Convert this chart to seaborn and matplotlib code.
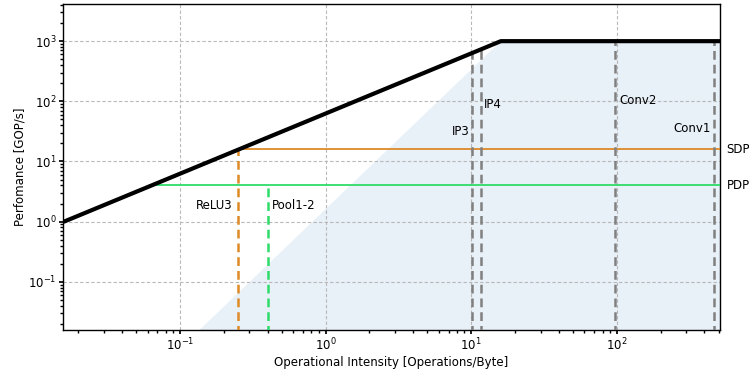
import numpy as np
import pandas as pd
import matplotlib
matplotlib.use("Agg")
import matplotlib.pyplot as plt
import seaborn as sns

# ---- data ----
peak_perf = 1000.0          # GOP/s
bandwidth = 62.5            # GB/s
roof_x = [1 / 62.5, 16.0, 512.0]
roof_y = [1.0, 1000.0, 1000.0]

shade_x = [0.112, 16.0, 512.0, 512.0]
shade_y = [0.01, 1000.0, 1000.0, 0.01]

level_names = ["SDP", "PDP"]
level_values = [16.0, 4.0]

layer_names = ["ReLU3", "Pool1-2", "IP3", "IP4", "Conv2", "Conv1"]
layer_intensity = [0.25, 0.40, 10.1, 11.6, 98.0, 468.0]
layer_perf = [15.6, 4.0, 631.0, 725.0, 1000.0, 1000.0]

xlim = (1 / 63.5, 512.0)
ylim = (0.0158, 4100.0)

ORANGE = "#dd8a27"
GREEN = "#2edc6a"
SHADE = "#e8f0f8"
FS = 8.5

sns.set_theme(style="ticks", rc={"axes.edgecolor": "black", "text.color": "black",
                                  "axes.labelcolor": "black", "xtick.color": "black",
                                  "ytick.color": "black"})
plt.rcParams["font.family"] = ["DejaVu Sans"]

fig, ax = plt.subplots(figsize=(7.49, 3.73), dpi=100)
fig.subplots_adjust(left=0.0841, right=0.9613, top=0.9885, bottom=0.1153)

ax.set_xscale("log")
ax.set_yscale("log")

ax.fill(shade_x, shade_y, color=SHADE, zorder=0, lw=0)

roof = pd.DataFrame({"x": roof_x, "y": roof_y})
sns.lineplot(data=roof, x="x", y="y", ax=ax, color="black", lw=3, zorder=5,
             estimator=None, sort=False)

# horizontal levels
level_colors = [ORANGE, GREEN]
for name, val, col in zip(level_names, level_values, level_colors):
    x0 = val / bandwidth
    lv = pd.DataFrame({"x": [x0, xlim[1]], "y": [val, val]})
    sns.lineplot(data=lv, x="x", y="y", ax=ax, color=col, lw=1.3, zorder=3,
                 estimator=None)
    ax.text(1.01, val, name, transform=ax.get_yaxis_transform(),
            va="center", ha="left", fontsize=FS)

# vertical layer lines
layer_colors = [ORANGE, GREEN, "gray", "gray", "gray", "gray"]
for name, xi, yi, col in zip(layer_names, layer_intensity, layer_perf, layer_colors):
    vl = pd.DataFrame({"x": [xi, xi], "y": [ylim[0] * 0.5, yi]})
    sns.lineplot(data=vl, x="x", y="y", ax=ax, color=col, lw=1.8, zorder=4,
                 estimator=None, sort=False, linestyle=(0, (3.5, 2)))

label_pos = {
    "ReLU3": (0.228, 1.85, "right"),
    "Pool1-2": (0.425, 1.85, "left"),
    "IP3": (9.7, 32.0, "right"),
    "IP4": (12.3, 88.0, "left"),
    "Conv2": (104.0, 103.0, "left"),
    "Conv1": (445.0, 35.0, "right"),
}
for name in layer_names:
    lx, ly, ha = label_pos[name]
    ax.text(lx, ly, name, ha=ha, va="center", fontsize=FS)

ax.set_xlim(*xlim)
ax.set_ylim(*ylim)
ax.grid(True, which="major", linestyle=(0, (3, 2)), color="#b8b8b8", lw=0.8)
ax.set_xlabel("Operational Intensity [Operations/Byte]", fontsize=FS, labelpad=2)
ax.set_ylabel("Perfomance [GOP/s]", fontsize=FS, labelpad=1)
ax.tick_params(which="both", direction="out", labelsize=FS)
ax.tick_params(which="major", length=3, pad=1.5)
ax.tick_params(which="minor", length=2)
for s in ax.spines.values():
    s.set_visible(True)
    s.set_linewidth(1.0)
    s.set_color("black")

fig.savefig("out.png", dpi=100)
